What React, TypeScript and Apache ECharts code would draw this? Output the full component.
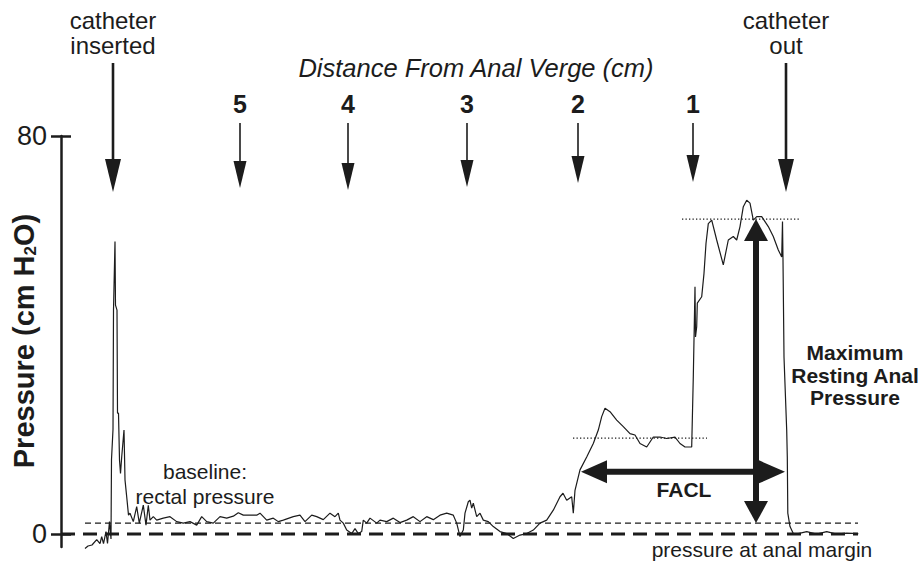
import React, { useEffect, useRef } from 'react';
import * as echarts from 'echarts';

const FONT = '"Liberation Sans", Arial, Helvetica, sans-serif';
const INK = '#1c1c1c';

// ---- Data: pressure trace [recording position, pressure (cm H2O)] ----
const insertionTrace: [number, number][] = [
  [24, -2.9], [27, -2.4], [31, -2.2], [35.7, -1.1], [39, -1.9], [40.7, -0.5], [42.5, -1.9], [45, 0.5],
  [46.5, -1.9], [48.5, 2.5], [50, -1.0], [50.5, 15], [52, 21], [52.5, 45], [54, 58.8], [54.5, 46],
  [56, 45], [56.5, 24.3], [57.5, 24.3], [58.5, 14.9], [59.5, 12.2], [60.7, 15.5], [63, 20.9], [64, 10.9],
  [65.7, 7.5], [67.5, 3.8], [69, 4.2], [72.3, 2.5], [75.7, 5.5], [78.3, 2.2], [82.3, 5.8], [85, 1.8],
  [87.3, 5.8], [89, 2.8], [92.3, 3.5], [95.7, 2.8],
];
const rectalTrace: [number, number][] = [
  [102.3, 3.2], [109, 3.5], [115.7, 2.5], [122.3, 2.2], [129, 2.5], [135.7, 1.8], [140.7, 3.5], [145.7, 2.5],
  [152.3, 2.2], [159, 3.5], [165.7, 3.2], [172.3, 3.6], [177.3, 4.3], [182.3, 3.8], [189, 3.8], [195.7, 3.8],
  [199, 4.2], [205.7, 2.8], [212.3, 3.2], [217.3, 2.5], [222.3, 2.8], [232.3, 3.5], [239, 3.8], [244, 2.5],
  [250.7, 3.8], [255.7, 3.5], [262.3, 2.9], [269, 4.2], [274, 3.5], [277.3, 4.2], [279, 2.8], [282.3, 2.2],
  [285.7, 0.8], [290.7, 0.1], [294, 1.1], [297.3, 0.1], [300.7, 0.5], [302.3, 2.8], [305.7, 2.2], [309, 3.2],
  [315.7, 2.2], [319, 2.8], [325.7, 2.5], [332.3, 3.2], [339, 2.3], [345.7, 2.8], [352.3, 3.5], [359, 2.5],
  [365.7, 3.5], [372.3, 2.9], [379, 3.8], [385.7, 4.2], [392.3, 3.8], [395.7, 2.2],
];
const analCanalTrace: [number, number][] = [
  [399, -0.5], [402.3, 0.8], [404, 4.2], [407.3, 6.5], [409, 6.8], [410.7, 5.2], [412.3, 6.2], [415.7, 3.5],
  [419, 4.2], [422.3, 2.8], [427.3, 2.5], [432.3, 1.5], [439, 0.5], [445.7, 0.1], [452.3, -0.9], [459, -0.2],
  [465.7, 0.1], [472.3, 0.8], [479, 2.2], [485.7, 2.8], [492.3, 4.8], [499, 7.5], [502, 8.2], [505.7, 6.8],
  [510.7, 7.5], [512.3, 4.2], [514, 8.8], [519, 12.9], [525.7, 15.5], [532.3, 18.2], [537.3, 20.9], [540.7, 23.6],
  [544, 25.3], [549, 24.6], [555.7, 22.9], [562.3, 21.6], [569, 20.2], [574, 19.9], [579, 18.2], [585.7, 17.5],
  [592.3, 19.5], [599, 19.5], [605.7, 19.2], [614, 19.5], [619, 18.2], [624, 17.5], [630.7, 17.5],
];
const withdrawalTrace: [number, number][] = [
  [632.3, 31.6], [634, 49.7], [634.5, 39.6], [635.7, 41.7], [636.3, 46.4], [640.7, 47.7], [643, 52.4], [645, 58.4],
  [647.3, 62.4], [650.7, 63.1], [655.7, 59.1], [662.3, 54.1], [667.3, 59.1], [672.3, 59.8], [675.7, 59.1], [679, 61.8],
  [682.3, 65.8], [685.7, 67.1], [689, 66.5], [692.3, 63.1], [695.7, 63.8], [700.7, 63.8], [704, 62.8], [707.3, 61.8],
  [712.3, 59.8], [717.3, 57.1], [720.7, 55.7], [721.5, 62.8], [722, 55.1], [723, 35.6], [725.7, 20.9], [726.3, 15.5],
  [726.8, 4.2], [729, 1.5], [732.3, 0.1], [737.3, 0.1], [745.7, 0.5], [755.7, 0], [765.7, 0.5], [775.7, 0],
  [785.7, 0.2], [797.3, 0.1],
];

const yTicks = [0, 80];
const distanceLabels = ['5', '4', '3', '2', '1'];
const distancePositions = [179, 287, 406, 517, 632];
const catheterEvents = ['catheter\ninserted', 'catheter\nout'];
const catheterPositions = [52, 725];

const analMarginPressure = 0;
const rectalPressure = 2.2;
const plateauPressure = 19.3;
const maxRestingPressure = 63.3;
const traceStart = 24;
const traceEnd = 797;
const plateauRange = [512, 646];
const maxRange = [621, 739];
const faclRange = [520, 724];
const faclLevel = 12.5;
const maxArrowPosition = 695;

// ---- Layout (pixels) ----
const DIST_ARROW_TOP = 123;
const DIST_ARROW_TIPS = [188, 190, 187, 183, 182];
const DIST_LABEL_Y = 104;
const CATH_ARROW_TOP = 63;
const CATH_ARROW_TIP = 192;
const CATH_LABEL_Y = 32.5;

function head(tip: number[], dir: number[], len: number, half: number) {
  const [dx, dy] = dir;
  const bx = tip[0] - dx * len;
  const by = tip[1] - dy * len;
  const nx = -dy;
  const ny = dx;
  return [
    [tip[0], tip[1]],
    [bx + nx * half, by + ny * half],
    [bx - nx * half, by - ny * half],
  ];
}

const trace = [...insertionTrace, ...rectalTrace, ...analCanalTrace, ...withdrawalTrace];

const refLine = (data: number[][], width: number, dash: number[]) => ({
  type: 'line',
  data,
  showSymbol: false,
  symbol: 'none',
  silent: true,
  clip: false,
  lineStyle: { color: INK, width, type: dash },
  z: 2,
});

const option: any = {
  animation: false,
  backgroundColor: '#ffffff',
  textStyle: { fontFamily: FONT },
  grid: { left: 61, right: 60, top: 136, bottom: 16, outerBoundsMode: 'none' },
  xAxis: { type: 'value', min: 0, max: 800, show: false },
  yAxis: [
    {
      type: 'value',
      min: -2.6,
      max: 80,
      position: 'left',
      axisLine: { show: true, onZero: false, lineStyle: { color: INK, width: 2.5 } },
      axisTick: { show: true, customValues: yTicks, length: 10, lineStyle: { color: INK, width: 2.5 } },
      axisLabel: { customValues: yTicks, fontSize: 27, color: INK, margin: 14, fontFamily: FONT },
      splitLine: { show: false },
    },
    {
      type: 'value',
      min: -2.6,
      max: 80,
      position: 'left',
      axisLine: { show: false },
      axisTick: { show: true, inside: true, customValues: yTicks, length: 10, lineStyle: { color: INK, width: 2.5 } },
      axisLabel: { show: false },
      splitLine: { show: false },
    },
  ],
  graphic: [
    {
      type: 'text', x: 23.5, y: 341, rotation: Math.PI / 2,
      style: {
        text: '{m|Pressure (cm H}{s|2}{m|O)}',
        fontSize: 29, fontWeight: 'bold', fontFamily: FONT, fill: INK,
        align: 'center', verticalAlign: 'middle',
        rich: {
          m: { fontSize: 29, fontWeight: 'bold', fontFamily: FONT, fill: INK, lineHeight: 30 },
          s: { fontSize: 17, fontWeight: 'bold', fontFamily: FONT, fill: INK, lineHeight: 12, verticalAlign: 'bottom' },
        },
      },
    },
    {
      type: 'text', x: 476, y: 68,
      style: { text: 'Distance From Anal Verge (cm)', fontSize: 25.5, fontStyle: 'italic', fontFamily: FONT, fill: INK, align: 'center', verticalAlign: 'middle' },
    },
    {
      type: 'text', x: 205, y: 484,
      style: { text: 'baseline:\nrectal pressure', fontSize: 21, lineHeight: 25, fontFamily: FONT, fill: INK, align: 'center', verticalAlign: 'middle' },
    },
    {
      type: 'text', x: 762, y: 549,
      style: { text: 'pressure at anal margin', fontSize: 21, fontFamily: FONT, fill: INK, align: 'center', verticalAlign: 'middle' },
    },
    {
      type: 'text', x: 855, y: 375,
      style: { text: 'Maximum\nResting Anal\nPressure', fontSize: 21, lineHeight: 22.5, fontWeight: 'bold', fontFamily: FONT, fill: INK, align: 'center', verticalAlign: 'middle' },
    },
    {
      type: 'text', x: 684, y: 489,
      style: { text: 'FACL', fontSize: 21, fontWeight: 'bold', fontFamily: FONT, fill: INK, align: 'center', verticalAlign: 'middle' },
    },
  ],
  series: [
    refLine([[0, analMarginPressure], [traceEnd, analMarginPressure]], 3, [14, 8]),
    refLine([[traceStart, rectalPressure], [traceEnd, rectalPressure]], 1.2, [6, 4]),
    refLine([[plateauRange[0], plateauPressure], [plateauRange[1], plateauPressure]], 1.2, [1.3, 2.2]),
    refLine([[maxRange[0], maxRestingPressure], [maxRange[1], maxRestingPressure]], 1.2, [1.3, 2.2]),
    {
      type: 'line',
      data: trace,
      showSymbol: false,
      symbol: 'none',
      clip: false,
      silent: true,
      lineStyle: { color: INK, width: 1.2 },
      z: 3,
    },
    {
      type: 'custom',
      silent: true,
      clip: false,
      z: 5,
      data: distancePositions.map((x, i) => [x, i]),
      renderItem: (params: any, api: any) => {
        const i = params.dataIndex;
        const px = api.coord([api.value(0), 0])[0];
        const tip = DIST_ARROW_TIPS[i];
        return {
          type: 'group',
          children: [
            {
              type: 'text', x: px, y: DIST_LABEL_Y,
              style: { text: distanceLabels[i], fontSize: 25, fontWeight: 'bold', fontFamily: FONT, fill: INK, align: 'center', verticalAlign: 'middle' },
            },
            { type: 'line', shape: { x1: px, y1: DIST_ARROW_TOP, x2: px, y2: tip - 20 }, style: { stroke: INK, lineWidth: 1.6 } },
            { type: 'polygon', shape: { points: head([px, tip], [0, 1], 27, 6.5) }, style: { fill: INK } },
          ],
        };
      },
    },
    {
      type: 'custom',
      silent: true,
      clip: false,
      z: 5,
      data: catheterPositions.map((x, i) => [x, i]),
      renderItem: (params: any, api: any) => {
        const i = params.dataIndex;
        const px = api.coord([api.value(0), 0])[0];
        return {
          type: 'group',
          children: [
            {
              type: 'text', x: px, y: CATH_LABEL_Y,
              style: { text: catheterEvents[i], fontSize: 24, lineHeight: 25, fontFamily: FONT, fill: INK, align: 'center', verticalAlign: 'middle' },
            },
            { type: 'line', shape: { x1: px, y1: CATH_ARROW_TOP, x2: px, y2: CATH_ARROW_TIP - 25 }, style: { stroke: INK, lineWidth: 2.6 } },
            { type: 'polygon', shape: { points: head([px, CATH_ARROW_TIP], [0, 1], 33, 8) }, style: { fill: INK } },
          ],
        };
      },
    },
    {
      type: 'custom',
      silent: true,
      clip: false,
      z: 6,
      data: [
        [maxArrowPosition, rectalPressure, maxArrowPosition, maxRestingPressure, 22, 12],
        [faclRange[0], faclLevel, faclRange[1], faclLevel, 26, 11.5],
      ],
      renderItem: (params: any, api: any) => {
        const a = api.coord([api.value(0), api.value(1)]);
        const b = api.coord([api.value(2), api.value(3)]);
        const len = api.value(4);
        const half = api.value(5);
        const dx = b[0] - a[0];
        const dy = b[1] - a[1];
        const d = Math.sqrt(dx * dx + dy * dy) || 1;
        const u = [dx / d, dy / d];
        const s1 = [a[0] + u[0] * (len - 2), a[1] + u[1] * (len - 2)];
        const s2 = [b[0] - u[0] * (len - 2), b[1] - u[1] * (len - 2)];
        return {
          type: 'group',
          children: [
            { type: 'line', shape: { x1: s1[0], y1: s1[1], x2: s2[0], y2: s2[1] }, style: { stroke: INK, lineWidth: 6 } },
            { type: 'polygon', shape: { points: head(b, u, len, half) }, style: { fill: INK } },
            { type: 'polygon', shape: { points: head(a, [-u[0], -u[1]], len, half) }, style: { fill: INK } },
          ],
        };
      },
    },
  ],
};

export default function App() {
  const ref = useRef<HTMLDivElement>(null);
  useEffect(() => {
    if (!ref.current) return;
    const chart = echarts.init(ref.current, null, { renderer: 'svg' });
    chart.setOption(option);
    return () => chart.dispose();
  }, []);
  return (
    <div
      ref={ref}
      style={{ position: 'fixed', left: 0, top: 0, width: 921, height: 563, background: '#ffffff' }}
    />
  );
}
